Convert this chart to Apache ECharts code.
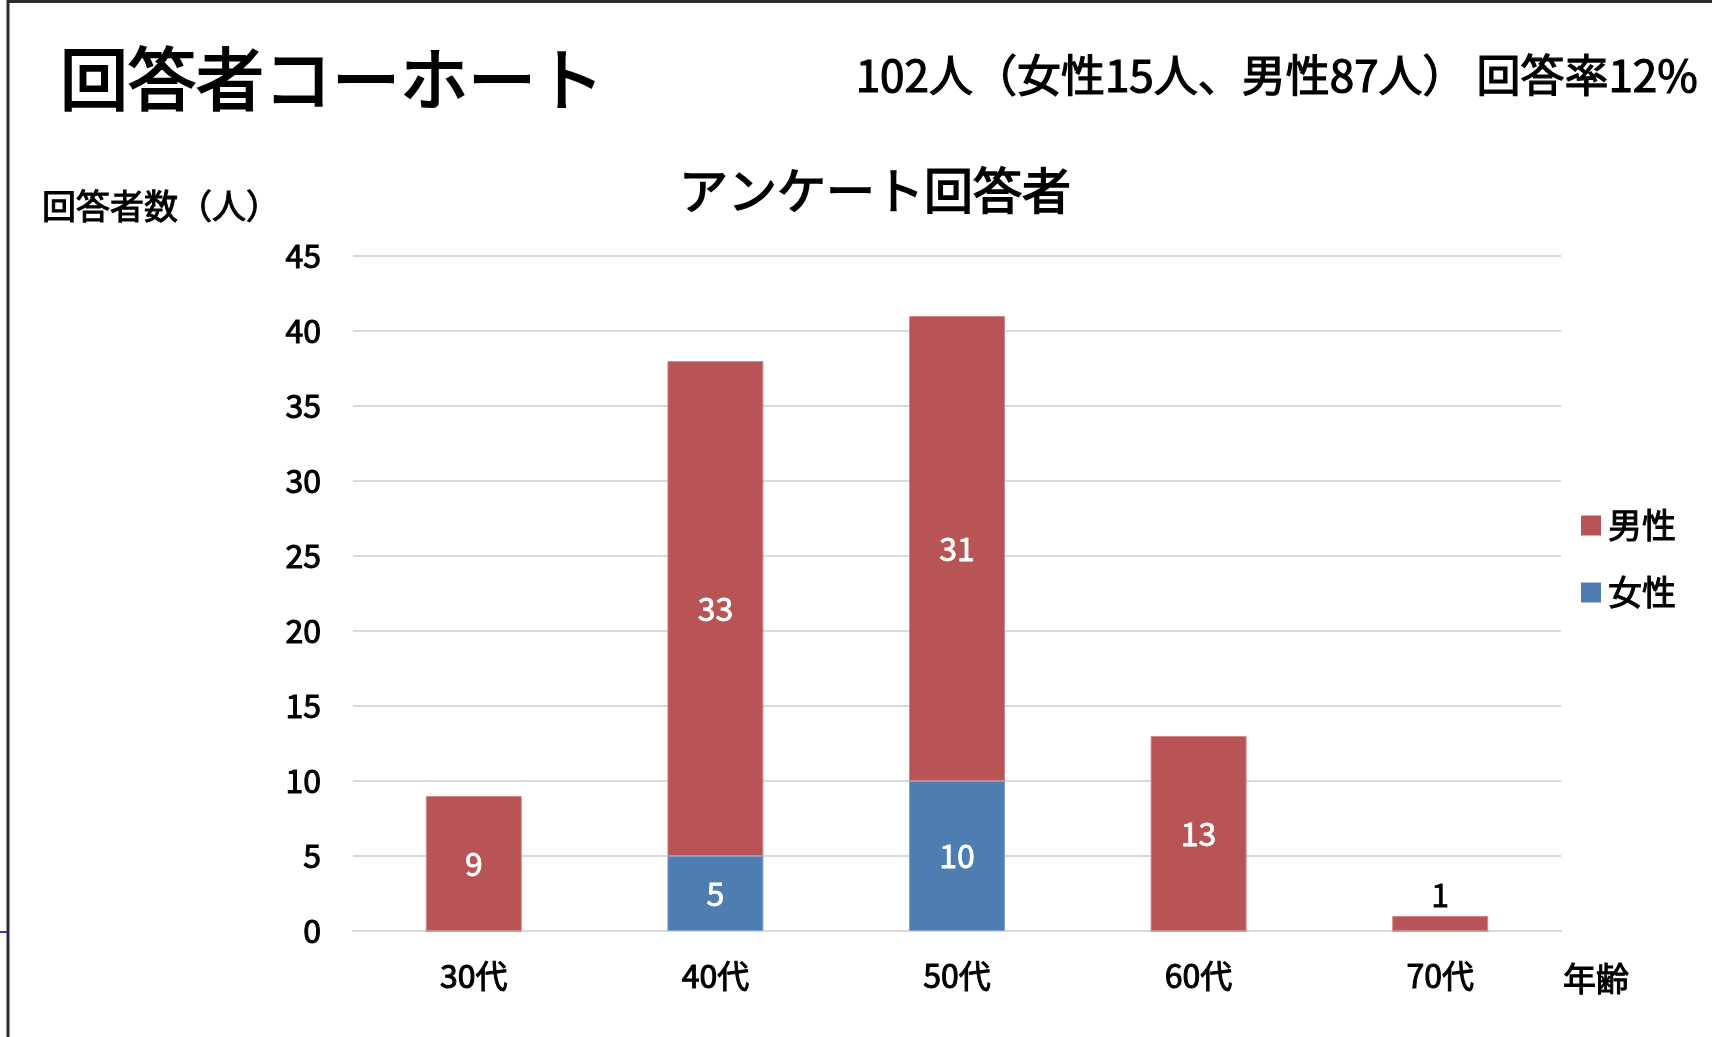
<!DOCTYPE html>
<html><head><meta charset="utf-8">
<script src="https://cdn.jsdelivr.net/npm/echarts@6/dist/echarts.min.js"></script>
<style>html,body{margin:0;padding:0;background:#fff}#c{width:1712px;height:1037px}</style>
</head><body><div id="c"></div>
<script>
const categories = ['30代', '40代', '50代', '60代', '70代'];
const maleValues = [9, 33, 31, 13, 1];
const femaleValues = [0, 5, 10, 0, 0];
const yTicks = [0, 5, 10, 15, 20, 25, 30, 35, 40, 45];
const mainTitle = '回答者コーホート';
const summaryText = '102人（女性15人、男性87人） 回答率12%';
const chartTitle = 'アンケート回答者';
const yName = '回答者数（人）';
const xName = '年齢';

const FONT = '"Noto Sans CJK JP", "Noto Sans", sans-serif';
const RED = '#B85356', BLUE = '#4E7DB2';
function ts(size, bw, color) {
  color = color || '#000';
  return {fontFamily: FONT, fontSize: size, fontWeight: 'normal', color: color, textBorderColor: color, textBorderWidth: bw};
}

const chart = echarts.init(document.getElementById('c'), null, {renderer: 'canvas'});
chart.setOption({
  backgroundColor: '#ffffff',
  animation: false,
  textStyle: {fontFamily: FONT, color: '#000'},
  title: [
    {text: mainTitle, left: 55, top: 40, textStyle: ts(68, 2)},
    {text: summaryText, right: 8, top: 48, textStyle: ts(44, 1.2)},
    {text: chartTitle, left: 870, textAlign: 'center', top: 161, textStyle: ts(49, 1.5)}
  ],
  legend: {
    data: ['男性', '女性'],
    orient: 'vertical',
    left: 1576, top: 503,
    itemWidth: 20, itemHeight: 20, itemGap: 32, itemStyle: {borderWidth: 0},
    icon: 'rect',
    textStyle: Object.assign(ts(34, 1), {padding: [0, 0, 0, 2]})
  },
  grid: {left: 353, right: 151, top: 256, bottom: 106, containLabel: false},
  xAxis: {
    type: 'category', data: categories,
    name: xName, nameLocation: 'end', nameGap: 2,
    nameTextStyle: Object.assign(ts(33, 1), {align: 'left', verticalAlign: 'top', padding: [31, 0, 0, 0]}),
    axisLine: {show: true, lineStyle: {color: '#D9D9D9', width: 2}},
    axisTick: {show: false},
    axisLabel: Object.assign(ts(32, 1), {margin: 29})
  },
  yAxis: {
    type: 'value', min: 0, max: 45, interval: 5,
    name: yName, nameLocation: 'end', nameGap: 50,
    nameTextStyle: Object.assign(ts(34, 1), {align: 'right', verticalAlign: 'middle', padding: [0, 73, 0, 0]}),
    axisLine: {show: false}, axisTick: {show: false},
    splitLine: {lineStyle: {color: '#D9D9D9', width: 2}},
    axisLabel: Object.assign(ts(32, 1), {margin: 32, formatter: v => yTicks.includes(v) ? String(v) : ''})
  },
  series: [
    {
      name: '女性', type: 'bar', stack: 'total', barWidth: 96,
      itemStyle: {color: BLUE, borderColor: '#7FA0CC', borderWidth: 1},
      label: Object.assign(ts(32, 0.8, '#fff'), {show: true, position: 'inside',
        formatter: p => p.value ? String(p.value) : ''}),
      data: femaleValues
    },
    {
      name: '男性', type: 'bar', stack: 'total', barWidth: 96,
      itemStyle: {color: RED, borderColor: '#D08A8C', borderWidth: 1},
      label: Object.assign(ts(32, 0.8, '#fff'), {show: true, position: 'inside',
        formatter: p => p.value ? String(p.value) : ''}),
      data: maleValues.map(v => v < 3 ? {value: v, label: {position: 'top', color: '#000', textBorderColor: '#000', distance: 5}} : v)
    }
  ],
  graphic: [
    {type: 'line', shape: {x1: 7, y1: 1.5, x2: 1712, y2: 1.5}, style: {stroke: '#2b2b2b', lineWidth: 3}, silent: true},
    {type: 'line', shape: {x1: 8, y1: 0, x2: 8, y2: 1037}, style: {stroke: '#2b2b2b', lineWidth: 3}, silent: true},
    {type: 'line', shape: {x1: 0, y1: 932, x2: 7, y2: 932}, style: {stroke: '#3a3aa8', lineWidth: 2}, silent: true}
  ]
});
</script></body></html>
